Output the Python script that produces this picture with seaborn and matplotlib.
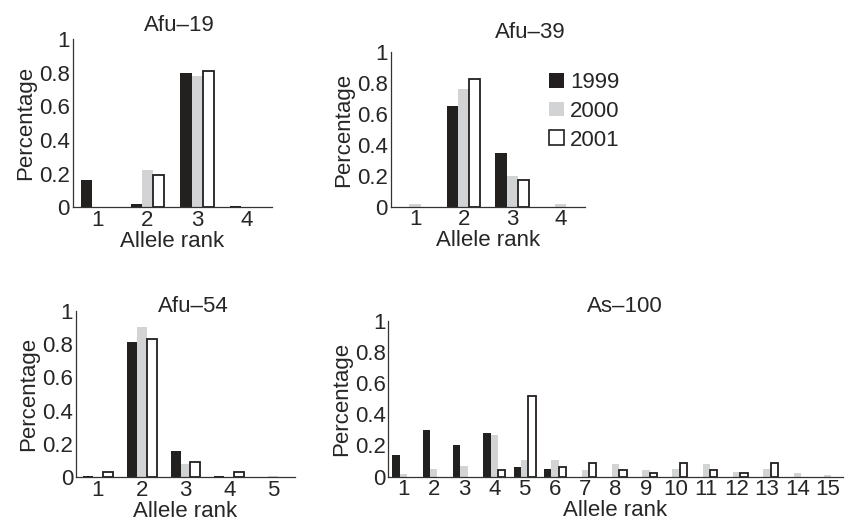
"""
Allele-rank frequency panels (Afu-19, Afu-39, Afu-54, As-100) for 1999-2001.
"""
import matplotlib
matplotlib.use("Agg")
import matplotlib.pyplot as plt
import numpy as np
import pandas as pd
import seaborn as sns
from matplotlib.patches import Patch

years = ["1999", "2000", "2001"]

afu19_ranks = [1, 2, 3, 4]
afu19_1999 = [0.16, 0.02, 0.80, 0.01]
afu19_2000 = [0.00, 0.22, 0.78, 0.00]
afu19_2001 = [0.00, 0.19, 0.81, 0.00]

afu39_ranks = [1, 2, 3, 4]
afu39_1999 = [0.00, 0.65, 0.35, 0.00]
afu39_2000 = [0.02, 0.76, 0.20, 0.02]
afu39_2001 = [0.00, 0.83, 0.17, 0.00]

afu54_ranks = [1, 2, 3, 4, 5]
afu54_1999 = [0.01, 0.81, 0.16, 0.01, 0.00]
afu54_2000 = [0.00, 0.90, 0.08, 0.00, 0.01]
afu54_2001 = [0.03, 0.83, 0.09, 0.03, 0.00]

as100_ranks = list(range(1, 16))
as100_1999 = [0.14, 0.30, 0.20, 0.28, 0.06, 0.05, 0.00, 0.00, 0.00, 0.00, 0.00, 0.00, 0.00, 0.00, 0.00]
as100_2000 = [0.02, 0.05, 0.07, 0.27, 0.11, 0.11, 0.045, 0.083, 0.045, 0.05, 0.083, 0.03, 0.05, 0.025, 0.012]
as100_2001 = [0.00, 0.00, 0.00, 0.04, 0.52, 0.06, 0.088, 0.04, 0.024, 0.088, 0.04, 0.024, 0.085, 0.00, 0.00]

colors = {"1999": "#231f20", "2000": "#d1d3d4", "2001": "#ffffff"}
edge = "#231f20"

sns.set_style("white")
plt.rcParams["font.family"] = ["Liberation Sans", "DejaVu Sans"]
FS = 16


def to_frame(ranks, v99, v00, v01):
    rows = []
    for yr, vals in zip(years, [v99, v00, v01]):
        for r, v in zip(ranks, vals):
            rows.append({"rank": r, "year": yr, "pct": v})
    return pd.DataFrame(rows)


def draw_panel(ax, ranks, v99, v00, v01, title, title_xy, width):
    df = to_frame(ranks, v99, v00, v01)
    sns.barplot(data=df, x="rank", y="pct", hue="year", order=ranks,
                hue_order=years, palette=colors, width=width,
                errorbar=None, legend=False, ax=ax)
    for yr, cont in zip(years, ax.containers):
        for bar in cont:
            if yr == "2001" and bar.get_height() > 0:
                bar.set_edgecolor(edge)
                bar.set_linewidth(1.3)
            else:
                bar.set_linewidth(0)
    n = len(ranks)
    ax.set_xlim(-0.5, n - 0.5)
    ax.set_ylim(0, 1)
    ax.set_yticks([0, 0.2, 0.4, 0.6, 0.8, 1])
    ax.set_yticklabels(["0", "0.2", "0.4", "0.6", "0.8", "1"])
    ax.set_xticks(np.arange(n + 1) - 0.5, minor=True)
    ax.tick_params(axis="x", which="major", length=0, pad=2, labelsize=FS)
    ax.tick_params(axis="x", which="minor", direction="in", length=5, width=0.9)
    ax.tick_params(axis="y", direction="in", length=5, width=0.9, pad=2, labelsize=FS)
    sns.despine(ax=ax)
    for s in ("left", "bottom"):
        ax.spines[s].set_linewidth(0.9)
        ax.spines[s].set_color("#333333")
    ax.set_xlabel("Allele rank", fontsize=FS, labelpad=0)
    ax.set_ylabel("Percentage", fontsize=FS, labelpad=2)
    ax.text(title_xy[0], title_xy[1], title, transform=ax.transAxes,
            ha="center", va="center", fontsize=FS)


fig = plt.figure(figsize=(8.52, 5.24), dpi=100)
ax1 = fig.add_axes([0.0853, 0.6044, 0.2336, 0.3212])
ax2 = fig.add_axes([0.4586, 0.6055, 0.2280, 0.2947])
ax3 = fig.add_axes([0.0892, 0.0891, 0.2570, 0.3180])
ax4 = fig.add_axes([0.4558, 0.0903, 0.5333, 0.2977])

draw_panel(ax1, afu19_ranks, afu19_1999, afu19_2000, afu19_2001, "Afu\u201319", (0.534, 1.083), 0.67)
draw_panel(ax2, afu39_ranks, afu39_1999, afu39_2000, afu39_2001, "Afu\u201339", (0.717, 1.125), 0.69)
draw_panel(ax3, afu54_ranks, afu54_1999, afu54_2000, afu54_2001, "Afu\u201354", (0.534, 1.028), 0.68)
draw_panel(ax4, as100_ranks, as100_1999, as100_2000, as100_2001, "As\u2013100", (0.521, 1.094), 0.73)

handles = [Patch(facecolor=colors[y], edgecolor=edge if y == "2001" else colors[y],
                 linewidth=1.2 if y == "2001" else 0) for y in years]
ax2.legend(handles, years, loc="upper left", bbox_to_anchor=(0.77, 0.93),
           frameon=False, fontsize=FS, handlelength=0.65, handleheight=0.65,
           handletextpad=0.3, labelspacing=0.35, borderaxespad=0)

fig.savefig("out.png", dpi=100)
